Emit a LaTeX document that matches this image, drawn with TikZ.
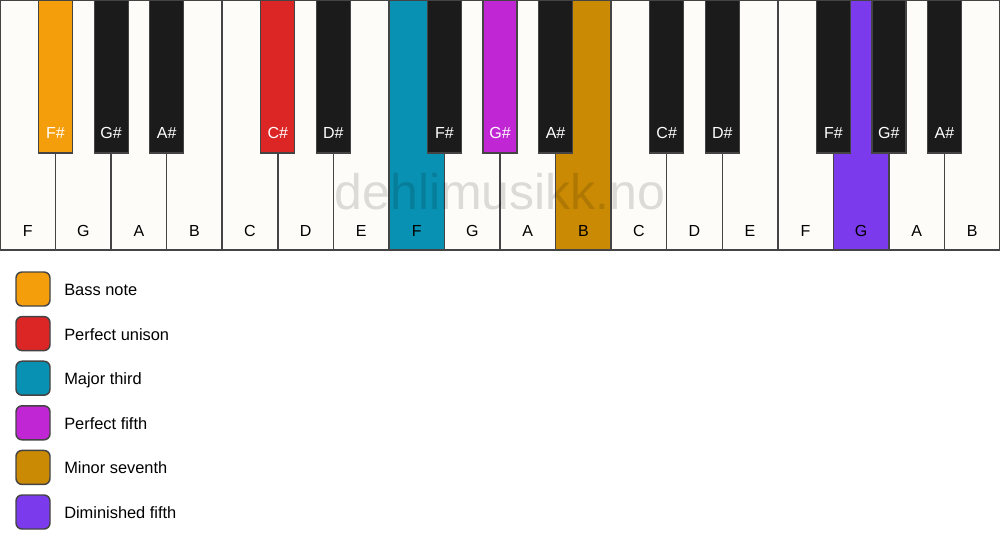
\documentclass[tikz,border=0pt]{standalone}
\usepackage{fontspec}
\setmainfont{Liberation Sans}

\definecolor{keywhite}{RGB}{253,252,249}
\definecolor{keyblack}{RGB}{27,27,27}
\definecolor{keyedge}{RGB}{68,68,68}
\definecolor{bassnote}{RGB}{245,158,11}
\definecolor{unison}{RGB}{220,38,38}
\definecolor{majthird}{RGB}{8,145,178}
\definecolor{perffifth}{RGB}{192,38,211}
\definecolor{minseventh}{RGB}{202,138,4}
\definecolor{dimfifth}{RGB}{124,58,237}

\tikzset{
  whitekey/.style={draw=keyedge, line width=1.1pt},
  blackkey/.style={draw=keyedge, line width=0.9pt},
  keylabel/.style={anchor=base, inner sep=0pt, font=\fontsize{12}{14}\selectfont},
  legendbox/.style={draw=keyedge, line width=1.1pt, rounded corners=4.5pt},
  legendtext/.style={anchor=base west, inner sep=0pt, font=\fontsize{12.3}{14}\selectfont},
  watermark/.style={text opacity=0.13, font=\fontsize{37.5}{40}\selectfont}
}

\begin{document}
\begin{tikzpicture}[x=0.75pt,y=0.75pt,yscale=-1,xscale=1]
\path[use as bounding box, fill=white] (0,0) rectangle (1000,550);

% white keys
\foreach \n/\c/\t [count=\i from 0] in {F/keywhite/black, G/keywhite/black, A/keywhite/black, B/keywhite/black,
    C/keywhite/black, D/keywhite/black, E/keywhite/black, F/majthird/black, G/keywhite/black, A/keywhite/black,
    B/minseventh/black, C/keywhite/black, D/keywhite/black, E/keywhite/black, F/keywhite/black, G/dimfifth/black,
    A/keywhite/black, B/keywhite/black}
{
  \draw[whitekey, fill=\c] (\i*55.556,0) rectangle ({(\i+1)*55.556},250);
  \node[keylabel, text=\t] (w\i) at ({\i*55.556+27.778},236) {\n};
}

% watermark
\node[watermark] (mark) at (500,192) {dehlimusikk.no};

% black keys
\foreach \n/\b/\c/\t in {F/1/bassnote/white, G/2/keyblack/white, A/3/keyblack/white, C/5/unison/white,
    D/6/keyblack/white, F/8/keyblack/white, G/9/perffifth/white, A/10/keyblack/white, C/12/keyblack/white,
    D/13/keyblack/white, F/15/keyblack/white, G/16/keyblack/white, A/17/keyblack/white}
{
  \draw[blackkey, fill=\c] ({\b*55.556-17},0) rectangle ({\b*55.556+17},153);
  \node[keylabel, text=\t] (b\b) at ({\b*55.556},138) {\n\#};
}

% legend
\foreach \c/\txt [count=\j from 0] in {bassnote/Bass note, unison/Perfect unison, majthird/Major third,
    perffifth/Perfect fifth, minseventh/Minor seventh, dimfifth/Diminished fifth}
{
  \draw[legendbox, fill=\c] (16,{272+\j*44.6}) rectangle (50,{306+\j*44.6});
  \node[legendtext] (leg\j) at (64,{295.5+\j*44.6}) {\txt};
}

\end{tikzpicture}
\end{document}
